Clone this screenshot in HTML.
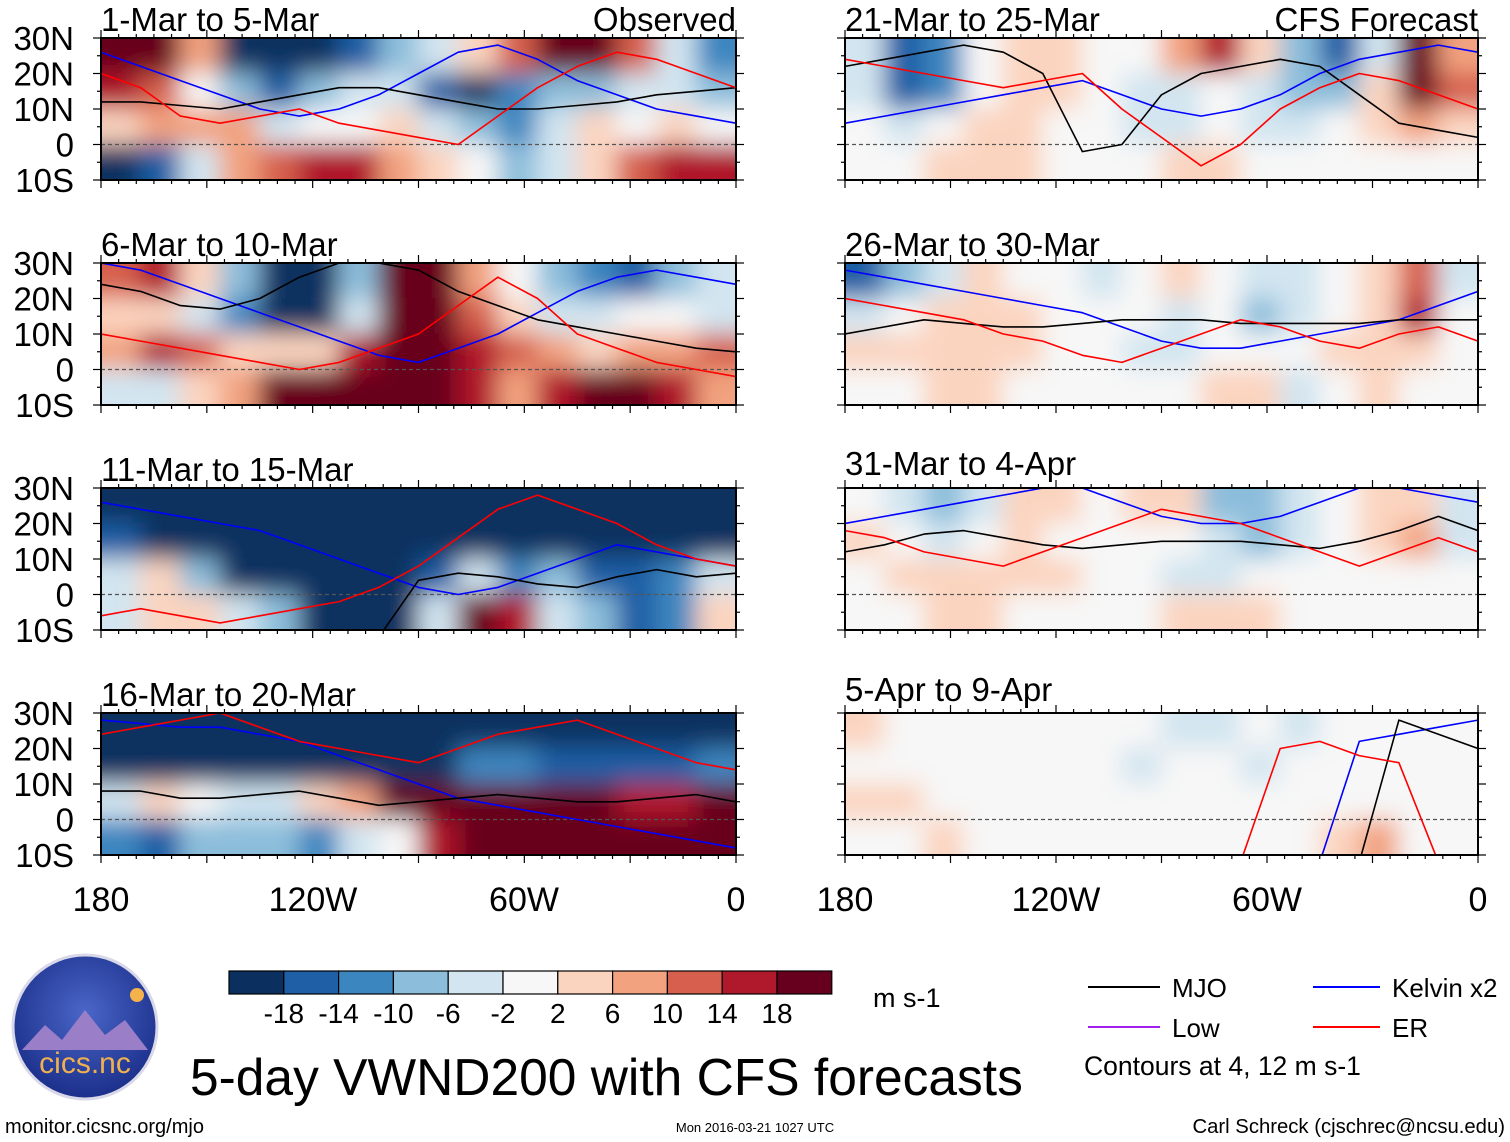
<!DOCTYPE html>
<html><head><meta charset="utf-8"><style>
html,body{margin:0;padding:0;background:#fff;}
svg{display:block;font-family:"Liberation Sans",sans-serif;}
</style></head><body>
<svg id="chart" width="1510" height="1142" viewBox="0 0 1510 1142" xmlns="http://www.w3.org/2000/svg">
<defs>
<filter id="smooth" x="-0.1" y="-0.3" width="1.2" height="1.6"><feGaussianBlur stdDeviation="12"/></filter>
<radialGradient id="logoGrad" cx="0.5" cy="0.4" r="0.6"><stop offset="0" stop-color="#4a66c8"/><stop offset="1" stop-color="#1b2f8a"/></radialGradient>
</defs>
<g id="panels"></g>
<g id="static">
 <g font-size="34" text-anchor="middle">
  <text x="101" y="911">180</text><text x="313" y="911">120W</text><text x="524" y="911">60W</text><text x="736" y="911">0</text>
 </g>
 <g font-size="34" text-anchor="middle">
  <text x="845" y="911">180</text><text x="1056" y="911">120W</text><text x="1267" y="911">60W</text><text x="1478" y="911">0</text>
 </g>
 <g id="colorbar"></g>
 <text x="873" y="1007" font-size="27">m s-1</text>
 <g font-size="26">
  <line x1="1088" y1="987" x2="1160" y2="987" stroke="#000" stroke-width="2"/>
  <text x="1172" y="997">MJO</text>
  <line x1="1088" y1="1027" x2="1160" y2="1027" stroke="#a020f0" stroke-width="2"/>
  <text x="1172" y="1037">Low</text>
  <line x1="1313" y1="987" x2="1380" y2="987" stroke="#0000ff" stroke-width="2"/>
  <text x="1392" y="997">Kelvin x2</text>
  <line x1="1313" y1="1027" x2="1380" y2="1027" stroke="#ff0000" stroke-width="2"/>
  <text x="1392" y="1037">ER</text>
  <text x="1084" y="1075" font-size="26.5">Contours at 4, 12 m s-1</text>
 </g>
 <g>
  <circle cx="85" cy="1027" r="72" fill="url(#logoGrad)" stroke="#d8d8e8" stroke-width="3"/>
  <path d="M22 1050 L45 1025 L62 1040 L85 1010 L105 1035 L125 1020 L148 1050 Z" fill="#9a7fc8"/>
  <circle cx="137" cy="995" r="7" fill="#f4b24a"/>
  <text x="85" y="1073" font-size="30" fill="#f0b050" text-anchor="middle">cics.nc</text>
 </g>
 <text x="190" y="1095" font-size="51.5">5-day VWND200 with CFS forecasts</text>
 <text x="5" y="1133" font-size="20">monitor.cicsnc.org/mjo</text>
 <text x="755" y="1132" font-size="13" text-anchor="middle">Mon 2016-03-21 1027 UTC</text>
 <text x="1505" y="1133" font-size="20.3" text-anchor="end">Carl Schreck (cjschrec@ncsu.edu)</text>
</g>
</svg>
<script>
// ---- data ----
const lats = [25, 15, 5, -5];
const binEdges = [-18,-14,-10,-6,-2,2,6,10,14,18];
const binColors = ["#0b3060","#1f5fa5","#3c86c0","#8cbedb","#d2e5f0","#f7f7f7","#fbd4bf","#f2a27f","#d6604d","#b0182b","#67001f"];
const cbLabels = ["-18","-14","-10","-6","-2","2","6","10","14","18"];
const titles = ["1-Mar to 5-Mar","6-Mar to 10-Mar","11-Mar to 15-Mar","16-Mar to 20-Mar","21-Mar to 25-Mar","26-Mar to 30-Mar","31-Mar to 4-Apr","5-Apr to 9-Apr"];
const p1 = [[20,18,8,-20,-22,-20,-16,-8,-4,2,10,20,20,10,-4,-14],[16,10,-2,-8,-18,-10,-4,-6,-16,-20,-14,-8,-10,-6,-4,-8],[4,6,8,6,-4,-2,0,2,-6,-10,-14,-6,2,-2,2,0],[-20,-18,-4,6,10,14,16,8,2,-2,-8,-4,4,10,14,16]];
const p2 = [[12,14,2,-8,-22,-22,-8,22,20,6,-2,-8,-14,-18,-10,-4],[4,2,-4,-12,-22,-20,-4,22,20,10,4,-6,-4,-2,-2,-4],[8,14,12,4,2,4,14,22,18,14,10,8,2,6,8,10],[-6,-4,2,8,18,22,22,22,20,14,6,16,20,20,14,8]];
const p3 = [[-22,-22,-22,-22,-22,-22,-22,-22,-22,-22,-22,-22,-22,-22,-20,-20],[-16,-22,-22,-22,-22,-22,-22,-22,-22,-22,-22,-22,-22,-22,-22,-22],[-4,2,-8,-22,-22,-22,-22,-22,-16,-6,-12,-10,-18,-16,-14,-4],[-6,2,4,-4,-8,-22,-22,-22,-4,18,16,-6,-10,-18,-14,2]];
const p4 = [[-22,-22,-22,-22,-22,-22,-22,-22,-22,-22,-22,-22,-22,-22,-22,-22],[-20,-20,-22,-22,-22,-22,-22,-22,-20,-14,-12,-16,-18,-18,-16,-14],[-4,2,-2,-6,-4,2,8,20,22,22,22,20,18,16,16,18],[-14,-16,-10,-8,-10,-12,-6,-2,16,22,22,22,20,18,18,22]];
const p5 = [[-6,-18,-14,-2,4,2,-2,-2,8,14,2,-8,-18,-4,18,8],[-4,-16,-12,-2,4,2,-2,-4,-4,-2,-4,-10,-10,4,20,10],[0,-4,-2,2,4,0,-2,-4,-4,0,-4,-6,-2,2,6,2],[0,-2,2,4,4,0,-2,-2,2,2,-2,-2,-2,-2,-2,0]];
const p6 = [[-18,-10,-4,4,0,-2,-4,-2,2,-2,-6,-4,-2,2,12,-4],[-4,-2,2,4,2,-2,-2,-2,-4,-2,-10,-6,-2,4,14,0],[2,2,4,4,2,0,-2,-4,-4,-2,-2,0,2,2,4,-2],[0,0,2,2,0,-2,-2,-2,0,2,2,-4,-2,2,0,-2]];
const p7 = [[-2,-4,-8,-4,4,2,-2,2,4,-8,-8,-4,-2,2,4,-4],[2,-2,-6,-2,2,0,-2,0,-2,-4,-8,-4,-2,4,6,-4],[0,2,2,2,4,2,-2,-2,-4,-4,-2,-2,-2,-2,-2,-2],[0,0,2,2,0,-2,-2,0,2,2,2,-2,-2,-2,0,-2]];
const p8 = [[2,-2,-2,0,0,-2,-2,-2,-4,-4,-2,-4,-2,-2,-2,0],[-2,0,0,-2,-2,-2,-2,-4,-2,-2,-4,-2,-2,-2,-2,-2],[4,2,0,-2,-2,-2,-2,-2,-2,-2,-2,-2,-2,-2,-2,-2],[-2,0,2,0,-2,-2,-2,-2,0,0,-2,0,4,6,0,0]];
const fields = [p1,p2,p3,p4,p5,p6,p7,p8];
const mjoLines = [[12,12,11,10,12,14,16,16,14,12,10,10,11,12,14,15,16],[24,22,18,17,20,26,30,30,28,22,18,14,12,10,8,6,5],[-12,-12,-12,-12,-12,-12,-12,-12,4,6,5,3,2,5,7,5,6],[8,8,6,6,7,8,6,4,5,6,7,6,5,5,6,7,5],[22,24,26,28,26,20,-2,0,14,20,22,24,22,14,6,4,2],[10,12,14,13,12,12,13,14,14,14,13,13,13,13,14,14,14],[12,14,17,18,16,14,13,14,15,15,15,14,13,15,18,22,18],[-12,-12,-12,-12,-12,-12,-12,-12,-12,-12,-12,-12,-12,-12,28,24,20]];
const erLines = [[20,16,8,6,8,10,6,4,2,0,8,16,22,26,24,20,16],[10,8,6,4,2,0,2,6,10,18,26,20,10,6,2,0,-2],[-6,-4,-6,-8,-6,-4,-2,2,8,16,24,28,24,20,14,10,8],[24,26,28,30,26,22,20,18,16,20,24,26,28,24,20,16,14],[24,22,20,18,16,18,20,10,2,-6,0,10,16,20,18,14,10],[20,18,16,14,10,8,4,2,6,10,14,12,8,6,10,12,8],[18,16,12,10,8,12,16,20,24,22,20,16,12,8,12,16,12],[-12,-12,-12,-12,-12,-12,-12,-12,-12,-12,-12,20,22,18,16,-12,-12]];
const kelvinLines = [[26,22,18,14,10,8,10,14,20,26,28,24,18,14,10,8,6],[30,28,24,20,16,12,8,4,2,6,10,16,22,26,28,26,24],[26,24,22,20,18,14,10,6,2,0,2,6,10,14,12,10,8],[28,27,26,26,24,22,18,14,10,6,4,2,0,-2,-4,-6,-8],[6,8,10,12,14,16,18,14,10,8,10,14,20,24,26,28,26],[28,26,24,22,20,18,16,12,8,6,6,8,10,12,14,18,22],[20,22,24,26,28,30,30,26,22,20,20,22,26,30,30,28,26],[-12,-12,-12,-12,-12,-12,-12,-12,-12,-12,-12,-12,-12,22,24,26,28]];
// ---- geometry ----
const colX = [[101,736],[845,1478]];
const rowTop = [38,263,488,713];
const panelH = 142;
const NS = "http://www.w3.org/2000/svg";
function mk(tag, attrs, parent){const e=document.createElementNS(NS,tag);for(const k in attrs)e.setAttribute(k,attrs[k]);if(parent)parent.appendChild(e);return e;}
function colorFor(v){let i=0;while(i<binEdges.length&&v>=binEdges[i])i++;return binColors[i];}
const root = document.getElementById("panels");
fields.forEach((f,pi)=>{
  const side = pi<4?0:1, row = pi%4;
  const x0=colX[side][0], x1=colX[side][1], y0=rowTop[row], y1=y0+panelH;
  const xs = lon => x0 + (lon/180)*(x1-x0);
  const ys = lat => y0 + (30-lat)/40*panelH;
  const g = mk("g",{},root);
  
  
  mk("clipPath",{id:"clip"+pi},g).appendChild(mk("rect",{x:x0,y:y0,width:x1-x0,height:panelH}));
  const hm = mk("g",{"clip-path":"url(#clip"+pi+")"},g);
  const hmInner = mk("g",{filter:"url(#smooth)"},hm);
  const nc=f[0].length, dlon=180/nc, nr=f.length;
  const ext=30;
  f.forEach((rowv,ri)=>{rowv.forEach((v,ci)=>{
    let cx=xs(ci*dlon), cw=xs(dlon)-x0, cy=ys(lats[ri]+5), ch=ys(lats[ri]-5)-cy;
    if(ci===0){cx-=ext;cw+=ext;} if(ci===nc-1){cw+=ext;}
    if(ri===0){cy-=ext;ch+=ext;} if(ri===nr-1){ch+=ext;}
    const c = mk("rect",{x:cx-0.5,y:cy-0.5,width:cw+1,height:ch+1,fill:colorFor(v)},hmInner);
    
    
  });});
  mk("line",{x1:x0,x2:x1,y1:ys(0),y2:ys(0),stroke:"#555","stroke-width":1.2,"stroke-dasharray":"4,3"},hm);
  [[kelvinLines[pi],"#0000ff","kelvin-contour"],[mjoLines[pi],"#000","mjo-contour"],[erLines[pi],"#f00","er-contour"]].forEach(([arr,col,nm])=>{
    const n=arr.length-1;
    const pts = arr.map((lat,i)=>xs(i*180/n).toFixed(1)+","+ys(lat).toFixed(1)).join(" ");
    const pl = mk("polyline",{points:pts,fill:"none",stroke:col,"stroke-width":1.6,"stroke-linejoin":"round"},hm);
    
    
  });
  mk("rect",{x:x0,y:y0,width:x1-x0,height:panelH,fill:"none",stroke:"#000","stroke-width":2},g);
  for(let lon=0;lon<=180;lon+=5){const L=lon%30===0?8:4;
    mk("line",{x1:xs(lon),x2:xs(lon),y1:y0,y2:y0-L,stroke:"#000","stroke-width":1.2},g);
    mk("line",{x1:xs(lon),x2:xs(lon),y1:y1,y2:y1+L,stroke:"#000","stroke-width":1.2},g);}
  for(let lat=-10;lat<=30;lat+=5){const L=lat%10===0?8:4;
    mk("line",{x1:x0,x2:x0-L,y1:ys(lat),y2:ys(lat),stroke:"#000","stroke-width":1.2},g);
    mk("line",{x1:x1,x2:x1+L,y1:ys(lat),y2:ys(lat),stroke:"#000","stroke-width":1.2},g);}
  const t = mk("text",{x:x0,y:(pi===6?y0-13:pi===7?y0-12:y0-7),"font-size":33},g);
  t.textContent = titles[pi];
  
  
  if(pi===0||pi===4){const t2=mk("text",{x:x1,y:y0-7,"font-size":33,"text-anchor":"end"},g);t2.textContent=pi===0?"Observed":"CFS Forecast";
    
    }
  if(side===0){["30N","20N","10N","0","10S"].forEach((lb,i)=>{const yl=mk("text",{x:74,y:ys(30-i*10)+12,"font-size":33,"text-anchor":"end"},g);yl.textContent=lb;
    
    });}
});
const cb = document.getElementById("colorbar");
const cbX0=229, cbW=54.8, cbY=971, cbH=23;
binColors.forEach((c,i)=>{const r=mk("rect",{x:cbX0+i*cbW,y:cbY,width:cbW,height:cbH,fill:c,stroke:"#000","stroke-width":1.2},cb);
  
  });
cbLabels.forEach((lb,i)=>{const t=mk("text",{x:cbX0+(i+1)*cbW,y:1023,"font-size":28,"text-anchor":"middle"},cb);t.textContent=lb;
  
  });
</script>
</body></html>
